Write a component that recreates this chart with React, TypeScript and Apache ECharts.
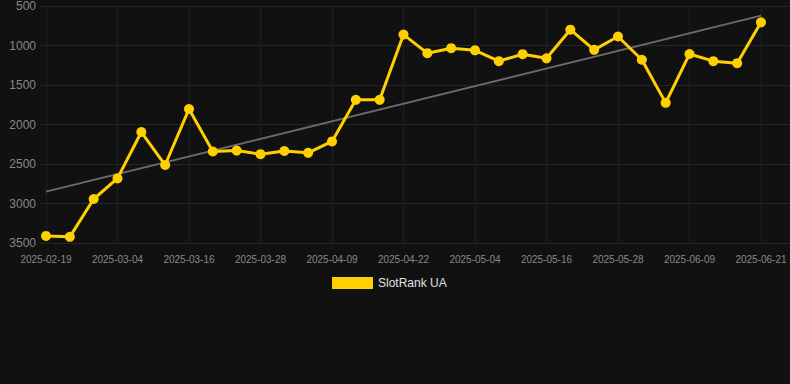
import React, { useEffect, useRef } from "react";
import * as echarts from "echarts";

const categories = [
  "2025-02-19", "2025-02-23", "2025-02-27", "2025-03-04", "2025-03-08", "2025-03-12",
  "2025-03-16", "2025-03-20", "2025-03-24", "2025-03-28", "2025-04-01", "2025-04-05",
  "2025-04-09", "2025-04-13", "2025-04-17", "2025-04-22", "2025-04-26", "2025-04-30",
  "2025-05-04", "2025-05-08", "2025-05-12", "2025-05-16", "2025-05-20", "2025-05-24",
  "2025-05-28", "2025-06-01", "2025-06-05", "2025-06-09", "2025-06-13", "2025-06-17",
  "2025-06-21",
];

const rankValues = [
  3410, 3422, 2943, 2682, 2095, 2513, 1804, 2342, 2330, 2376, 2336, 2359,
  2214, 1688, 1688, 862, 1097, 1034, 1061, 1198, 1110, 1162, 800, 1055,
  886, 1180, 1726, 1108, 1198, 1224, 707,
];

const trendStart = 2850;
const trendEnd = 622;

const seriesName = "SlotRank UA";
const yTicks = { min: 500, max: 3500, interval: 500 };

const FONT = "Arial, 'Liberation Sans', sans-serif";

export default function App() {
  const ref = useRef<HTMLDivElement>(null);
  useEffect(() => {
    document.body.style.margin = "0";
    document.body.style.background = "#111111";
    const chart = echarts.init(ref.current!, null, { renderer: "svg" });
    chart.setOption({
      animation: false,
      backgroundColor: "#111111",
      grid: [
        { left: 46, right: 29, top: 6, bottom: 141, containLabel: false },
        { left: 40, right: 0, top: 6, bottom: 141, containLabel: false },
      ],
      legend: {
        data: [{ name: seriesName, icon: "rect" }],
        top: 272,
        left: 327,
        padding: 5,
        itemWidth: 41,
        itemHeight: 12,
        itemGap: 10,
        textStyle: { color: "#e0e0e0", fontSize: 12, fontFamily: FONT },
      },
      xAxis: [
        {
          type: "category",
          gridIndex: 0,
          data: categories,
          boundaryGap: false,
          axisLine: { show: false },
          axisTick: { show: false },
          axisLabel: {
            interval: 2,
            color: "#888888",
            fontSize: 10,
            margin: 11,
            fontFamily: FONT,
          },
          splitLine: { show: true, interval: 2, lineStyle: { color: "#1f1f1f", width: 1 } },
        },
        {
          type: "value",
          gridIndex: 1,
          min: 0,
          max: 1,
          show: false,
          splitLine: { show: false },
        },
      ],
      yAxis: [
        {
          type: "value",
          gridIndex: 0,
          inverse: true,
          min: yTicks.min,
          max: yTicks.max,
          interval: yTicks.interval,
          axisLine: { show: false },
          axisTick: { show: false },
          axisLabel: {
            color: "#888888",
            fontSize: 12,
            margin: 10,
            fontFamily: FONT,
            formatter: (v: number) => String(v),
          },
          splitLine: { show: false },
        },
        {
          type: "value",
          gridIndex: 1,
          inverse: true,
          min: yTicks.min,
          max: yTicks.max,
          interval: yTicks.interval,
          axisLine: { show: false },
          axisTick: { show: false },
          axisLabel: { show: false },
          splitLine: { show: true, lineStyle: { color: "#252525", width: 1 } },
        },
      ],
      series: [
        {
          name: "trend",
          type: "line",
          xAxisIndex: 0,
          yAxisIndex: 0,
          data: [
            [categories[0], trendStart],
            [categories[categories.length - 1], trendEnd],
          ],
          symbol: "none",
          lineStyle: { color: "#6a6a6a", width: 2 },
          silent: true,
          z: 3,
        },
        {
          name: seriesName,
          type: "line",
          xAxisIndex: 0,
          yAxisIndex: 0,
          data: rankValues,
          symbol: "circle",
          symbolSize: 10,
          itemStyle: { color: "#FFD000" },
          lineStyle: { color: "#FFD000", width: 3 },
          z: 4,
        },
      ],
    });
    return () => chart.dispose();
  }, []);
  return <div ref={ref} style={{ width: 790, height: 384 }} />;
}
